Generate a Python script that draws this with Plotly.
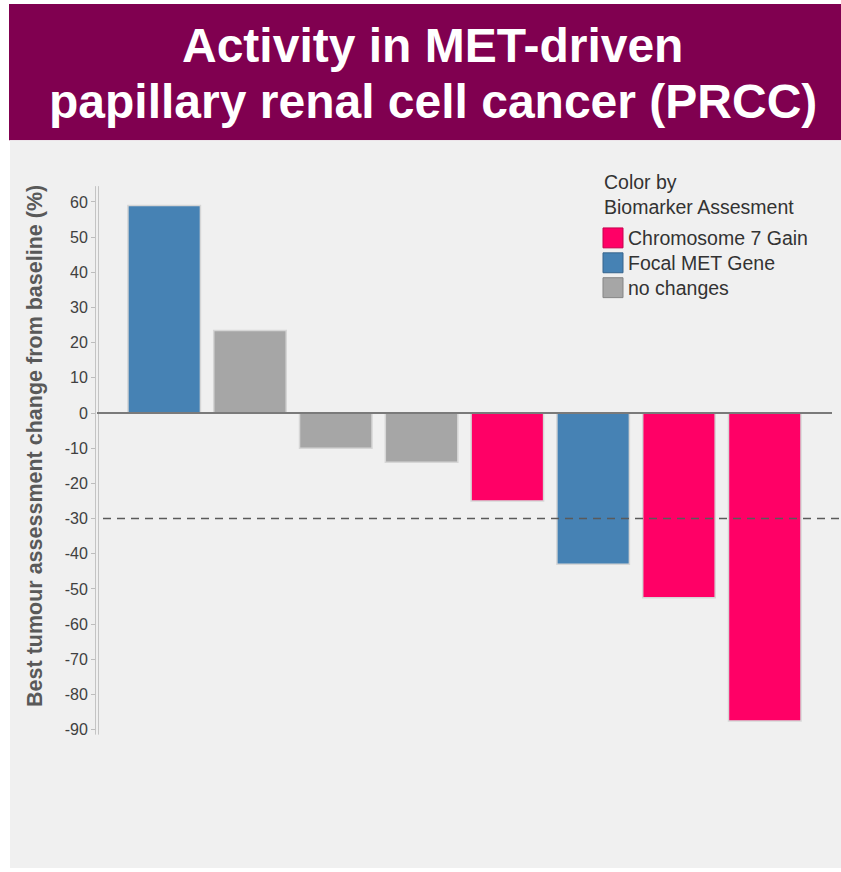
import plotly.graph_objects as go

# ---- data -------------------------------------------------------------
patient_index = [0, 1, 2, 3, 4, 5, 6, 7]
best_change_pct = [59, 23.5, -10, -14, -25, -43, -52.5, -87.5]
biomarker = [
    "Focal MET Gene", "no changes", "no changes", "no changes",
    "Chromosome 7 Gain", "Focal MET Gene", "Chromosome 7 Gain", "Chromosome 7 Gain",
]
legend_order = ["Chromosome 7 Gain", "Focal MET Gene", "no changes"]
y_tick_values = [60, 50, 40, 30, 20, 10, 0, -10, -20, -30, -40, -50, -60, -70, -80, -90]
y_tick_labels = [str(v) for v in y_tick_values]
response_threshold = -30

# ---- styling ------------------------------------------------------------
W, H = 841, 872
FONT = "Liberation Sans, Arial, sans-serif"
BAR_COLORS = {"Chromosome 7 Gain": "#ff0066", "Focal MET Gene": "#4682b4", "no changes": "#a6a6a6"}
SWATCH_EDGE = {"Chromosome 7 Gain": "#c8004f", "Focal MET Gene": "#36648c", "no changes": "#858585"}
BANNER = "#800050"
PANEL = "#f0f0f0"


def px(x):
    return x / W


def py(y):
    return 1 - y / H


fig = go.Figure(
    go.Bar(
        x=patient_index,
        y=best_change_pct,
        width=0.845,
        marker=dict(
            color=[BAR_COLORS[b] for b in biomarker],
            line=dict(color="#d6d6d6", width=1.5),
        ),
        showlegend=False,
        hoverinfo="y",
    )
)

shapes = [
    # title banner and grey panel
    dict(type="rect", xref="paper", yref="paper", x0=px(9), x1=px(841), y0=py(141), y1=py(4),
         fillcolor=BANNER, line_width=0, layer="below"),
    dict(type="rect", xref="paper", yref="paper", x0=px(10), x1=px(841), y0=py(872), y1=py(141),
         fillcolor=PANEL, line_width=0, layer="below"),
    # double axis line
    dict(type="line", xref="paper", yref="paper", x0=px(95.5), x1=px(95.5), y0=py(738), y1=py(187),
         line=dict(color="#c4c4c4", width=1)),
    dict(type="line", xref="paper", yref="paper", x0=px(98.5), x1=px(98.5), y0=py(738), y1=py(187),
         line=dict(color="#c4c4c4", width=1)),
    # baseline at 0
    dict(type="line", xref="paper", yref="y", x0=px(97), x1=px(832), y0=0, y1=0,
         line=dict(color="#7a7a7a", width=2), layer="above"),
    # response threshold
    dict(type="line", xref="paper", yref="y", x0=px(103), x1=px(841), y0=response_threshold,
         y1=response_threshold, line=dict(color="#5a5a5a", width=1.5, dash="8px,6px"), layer="above"),
]

annotations = [
    dict(text="Activity in MET-driven", x=px(433), y=py(46), xref="paper", yref="paper",
         showarrow=False, xanchor="center", yanchor="middle",
         font=dict(family=FONT, size=48, color="white", weight="bold")),
    dict(text="papillary renal cell cancer (PRCC)", x=px(433), y=py(102), xref="paper", yref="paper",
         showarrow=False, xanchor="center", yanchor="middle",
         font=dict(family=FONT, size=48, color="white", weight="bold")),
    dict(text="Best tumour assessment change from baseline (%)", x=px(35), y=py(448),
         xref="paper", yref="paper", showarrow=False, textangle=-90,
         xanchor="center", yanchor="middle",
         font=dict(family=FONT, size=21.5, color="#595959", weight="bold")),
    dict(text="Color by", x=px(602), y=py(183), xref="paper", yref="paper", showarrow=False,
         xanchor="left", yanchor="middle", font=dict(family=FONT, size=19.5, color="#333333")),
    dict(text="Biomarker Assesment", x=px(602), y=py(208), xref="paper", yref="paper",
         showarrow=False, xanchor="left", yanchor="middle",
         font=dict(family=FONT, size=19.5, color="#333333")),
]

# legend swatches and labels
for i, name in enumerate(legend_order):
    top = 229 + 25 * i
    shapes.append(dict(type="rect", xref="paper", yref="paper", x0=px(603), x1=px(623),
                       y0=py(top + 20), y1=py(top), fillcolor=BAR_COLORS[name],
                       line=dict(color=SWATCH_EDGE[name], width=1)))
    annotations.append(dict(text=name, x=px(626), y=py(top + 10), xref="paper", yref="paper",
                            showarrow=False, xanchor="left", yanchor="middle",
                            font=dict(family=FONT, size=19.5, color="#333333")))

fig.update_layout(
    width=W,
    height=H,
    margin=dict(l=0, r=0, t=0, b=0),
    paper_bgcolor="white",
    plot_bgcolor="rgba(0,0,0,0)",
    bargap=0.155,
    shapes=shapes,
    annotations=annotations,
    xaxis=dict(domain=[px(97), px(832)], range=[-0.783, 7.784], visible=False, fixedrange=True),
    yaxis=dict(
        domain=[py(738), py(187)],
        range=[-91.4, 64.5],
        tickvals=y_tick_values,
        ticktext=y_tick_labels,
        ticks="outside",
        ticklen=5,
        tickcolor="#bdbdbd",
        tickwidth=1,
        showgrid=False,
        zeroline=False,
        showline=False,
        tickfont=dict(family=FONT, size=16, color="#404040"),
        fixedrange=True,
    ),
)

fig.write_html("out.html")
